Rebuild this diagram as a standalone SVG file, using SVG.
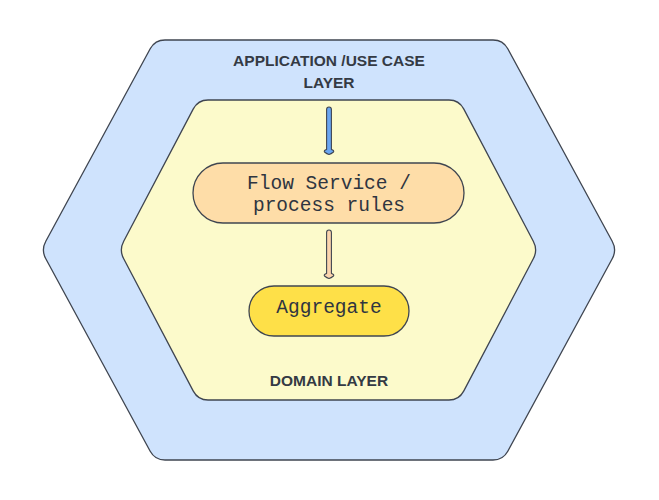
<svg xmlns="http://www.w3.org/2000/svg" width="659" height="500" viewBox="0 0 659 500">
<style>
.shape{stroke:#3f4550;stroke-width:1.3}
.title{font-family:"Liberation Sans","DejaVu Sans",sans-serif;font-weight:bold;font-size:15.5px;fill:#343a44;text-anchor:middle}
.mono{font-family:"Liberation Mono","DejaVu Sans Mono",monospace;font-size:19.5px;fill:#2f3540;text-anchor:middle}
.conn{stroke:#3f4550;stroke-width:1.1;stroke-linejoin:round}
</style>
<rect width="659" height="500" fill="#ffffff"/>
<g id="app-layer">
<path class="shape" fill="#cfe3fd" d="M45.8,241.2 L150.2,48.8 Q155,40 165,40 L493,40 Q503,40 507.8,48.8 L612.2,241.2 Q617,250 612.2,258.8 L507.8,451.2 Q503,460 493,460 L165,460 Q155,460 150.2,451.2 L45.8,258.8 Q41,250 45.8,241.2 Z"/>
<text class="title" x="329" y="66">APPLICATION /USE CASE</text>
<text class="title" x="329" y="88">LAYER</text>
</g>
<g id="domain-layer">
<path class="shape" fill="#fcfacb" d="M123.7,241.2 L193.3,108.9 Q198,100 208,100 L449,100 Q459,100 463.7,108.9 L533.3,241.2 Q538,250 533.3,258.8 L463.7,391.1 Q459,400 449,400 L208,400 Q198,400 193.3,391.1 L123.7,258.8 Q119,250 123.7,241.2 Z"/>
<text class="title" x="329" y="386">DOMAIN LAYER</text>
</g>
<g id="flow-service">
<rect class="shape" x="193" y="163" width="271" height="60" rx="30" fill="#fedda8"/>
<text class="mono" x="329" y="189">Flow Service /</text>
<text class="mono" x="329" y="211">process rules</text>
</g>
<g id="aggregate">
<rect class="shape" x="249" y="286" width="160" height="50" rx="25" fill="#fee048"/>
<text class="mono" x="329" y="313">Aggregate</text>
</g>
<g id="connectors">
<path class="conn" fill="#6aa6f2" d="M326.6,109.5 Q326.6,107 329,107 Q331.4,107 331.4,109.5 L331.4,149.5 Q334.5,150.5 333.5,152 Q331,154 329,154.5 Q327,154 324.5,152 Q323.5,150.5 326.6,149.5 Z"/>
<path class="conn" fill="#fcd5ae" d="M326.6,232.5 Q326.6,230 329,230 Q331.4,230 331.4,232.5 L331.4,273.5 Q334.5,274.5 333.5,276 Q331,278 329,278.5 Q327,278 324.5,276 Q323.5,274.5 326.6,273.5 Z"/>
</g>
</svg>
